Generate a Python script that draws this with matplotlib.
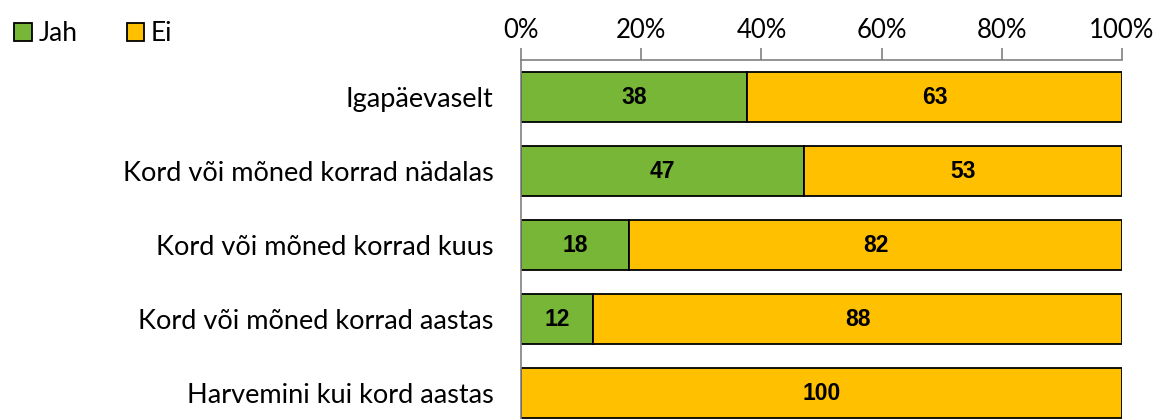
import numpy as np
import matplotlib.pyplot as plt
from matplotlib.patches import Patch

categories = [
    "Igapäevaselt",
    "Kord või mõned korrad nädalas",
    "Kord või mõned korrad kuus",
    "Kord või mõned korrad aastas",
    "Harvemini kui kord aastas",
]
jah = [38, 47, 18, 12, 0]
ei = [63, 53, 82, 88, 100]
tick_labels = ["0%", "20%", "40%", "60%", "80%", "100%"]

green = "#77B636"
yellow = "#FFC000"
label_font = "Lato"

jah_arr = np.array(jah, dtype=float)
ei_arr = np.array(ei, dtype=float)
total = jah_arr + ei_arr
jah_pct = jah_arr / total * 100
ei_pct = ei_arr / total * 100

fig = plt.figure(figsize=(11.62, 4.19), dpi=100)
ax = fig.add_axes([0.4484, -0.0263, 0.5172, 0.883])

y = np.arange(len(categories))
ax.barh(y, jah_pct, height=0.68, color=green, edgecolor="black", linewidth=1.3)
ax.barh(y, ei_pct, left=jah_pct, height=0.68, color=yellow, edgecolor="black", linewidth=1.3)

for i in range(len(categories)):
    if jah[i] > 0:
        ax.text(jah_pct[i] / 2, y[i], str(jah[i]), ha="center", va="center",
                fontsize=16.5, fontweight="bold", family="Liberation Sans")
    if ei[i] > 0:
        ax.text(jah_pct[i] + ei_pct[i] / 2, y[i], str(ei[i]), ha="center", va="center",
                fontsize=16.5, fontweight="bold", family="Liberation Sans")

ax.set_xlim(0, 100)
ax.set_ylim(len(categories) - 0.5, -0.5)
ax.set_yticks(y)
ax.set_yticklabels(categories, fontsize=19.5, family=label_font)
ax.tick_params(axis="y", length=0, pad=20)

ax.xaxis.tick_top()
ax.set_xticks(np.arange(0, 101, 20))
ax.set_xticklabels(tick_labels, fontsize=18.5, family=label_font)
ax.tick_params(axis="x", length=9, width=1.2, color="#808080", pad=3)

for s in ["right", "bottom"]:
    ax.spines[s].set_visible(False)
ax.spines["top"].set_color("#808080")
ax.spines["top"].set_linewidth(1.2)
ax.spines["left"].set_color("#808080")
ax.spines["left"].set_linewidth(1.2)

handles = [Patch(facecolor=green, edgecolor="black", linewidth=1.3, label="Jah"),
           Patch(facecolor=yellow, edgecolor="black", linewidth=1.3, label="Ei")]
fig.legend(handles=handles, loc="center left", bbox_to_anchor=(-0.008, 0.92), ncol=2,
           frameon=False, prop={"family": label_font, "size": 19},
           handlelength=0.65, handleheight=0.65, handletextpad=0.25, columnspacing=1.9)

fig.savefig("out.png", dpi=100)
